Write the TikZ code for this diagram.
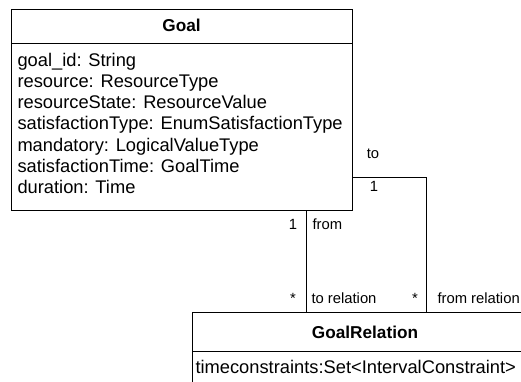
\documentclass[tikz,border=0pt]{standalone}
\usepackage{fontspec}
\setmainfont{Liberation Sans}
\begin{document}
\begin{tikzpicture}[x=1pt,y=-1pt,line width=1pt,
  classbox/.style={draw,rectangle,anchor=north west,inner sep=0pt},
  title/.style={font=\fontsize{17.2}{21}\selectfont\bfseries,inner sep=0pt,anchor=base},
  attr/.style={font=\fontsize{18.3}{21}\selectfont,inner sep=0pt,anchor=base west},
  lbl/.style={font=\fontsize{14.8}{17}\selectfont,inner sep=0pt}]
\useasboundingbox (0,0) rectangle (521,382);
\clip (0,0) rectangle (521,382);

% class Goal
\node[classbox,minimum width=341pt,minimum height=201pt] (goal) at (11,9) {};
\draw (11,44) -- (352,44);
\node[title] (goalname) at (181.5,32) {Goal};
\node[attr] (a1) at (17,67) {goal\_id: String};
\node[attr] (a2) at (17,88) {resource: ResourceType};
\node[attr] (a3) at (17,109) {resourceState: ResourceValue};
\node[attr] (a4) at (17,130) {satisfactionType: EnumSatisfactionType};
\node[attr] (a5) at (17,151) {mandatory: LogicalValueType};
\node[attr] (a6) at (17,172) {satisfactionTime: GoalTime};
\node[attr] (a7) at (17,193) {duration: Time};

% class GoalRelation
\node[classbox,minimum width=346pt,minimum height=90pt] (rel) at (192,312) {};
\draw (192,351) -- (538,351);
\node[title] (relname) at (365,338) {GoalRelation};
\node[attr] (r1) at (195,373) {timeconstraints:Set<IntervalConstraint>};

% associations
\draw (goal.south -| 306,0) -- (rel.north -| 306,0);
\draw (goal.east |- 0,177) -| (rel.north -| 426,0);

% role names and multiplicities
\node[lbl,anchor=base] (tolbl) at (373,158.5) {to};
\node[lbl,anchor=base] (tomult) at (374,191.5) {1};
\node[lbl,anchor=base] (frommult) at (293,229) {1};
\node[lbl,anchor=base west] (fromlbl) at (312,229) {from};
\node[lbl,anchor=base] (torelmult) at (293,303) {*};
\node[lbl,anchor=base west] (torellbl) at (311,303) {to relation};
\node[lbl,anchor=base] (fromrelmult) at (415,303) {*};
\node[lbl,anchor=base west] (fromrellbl) at (437,303) {from relation};
\end{tikzpicture}
\end{document}
